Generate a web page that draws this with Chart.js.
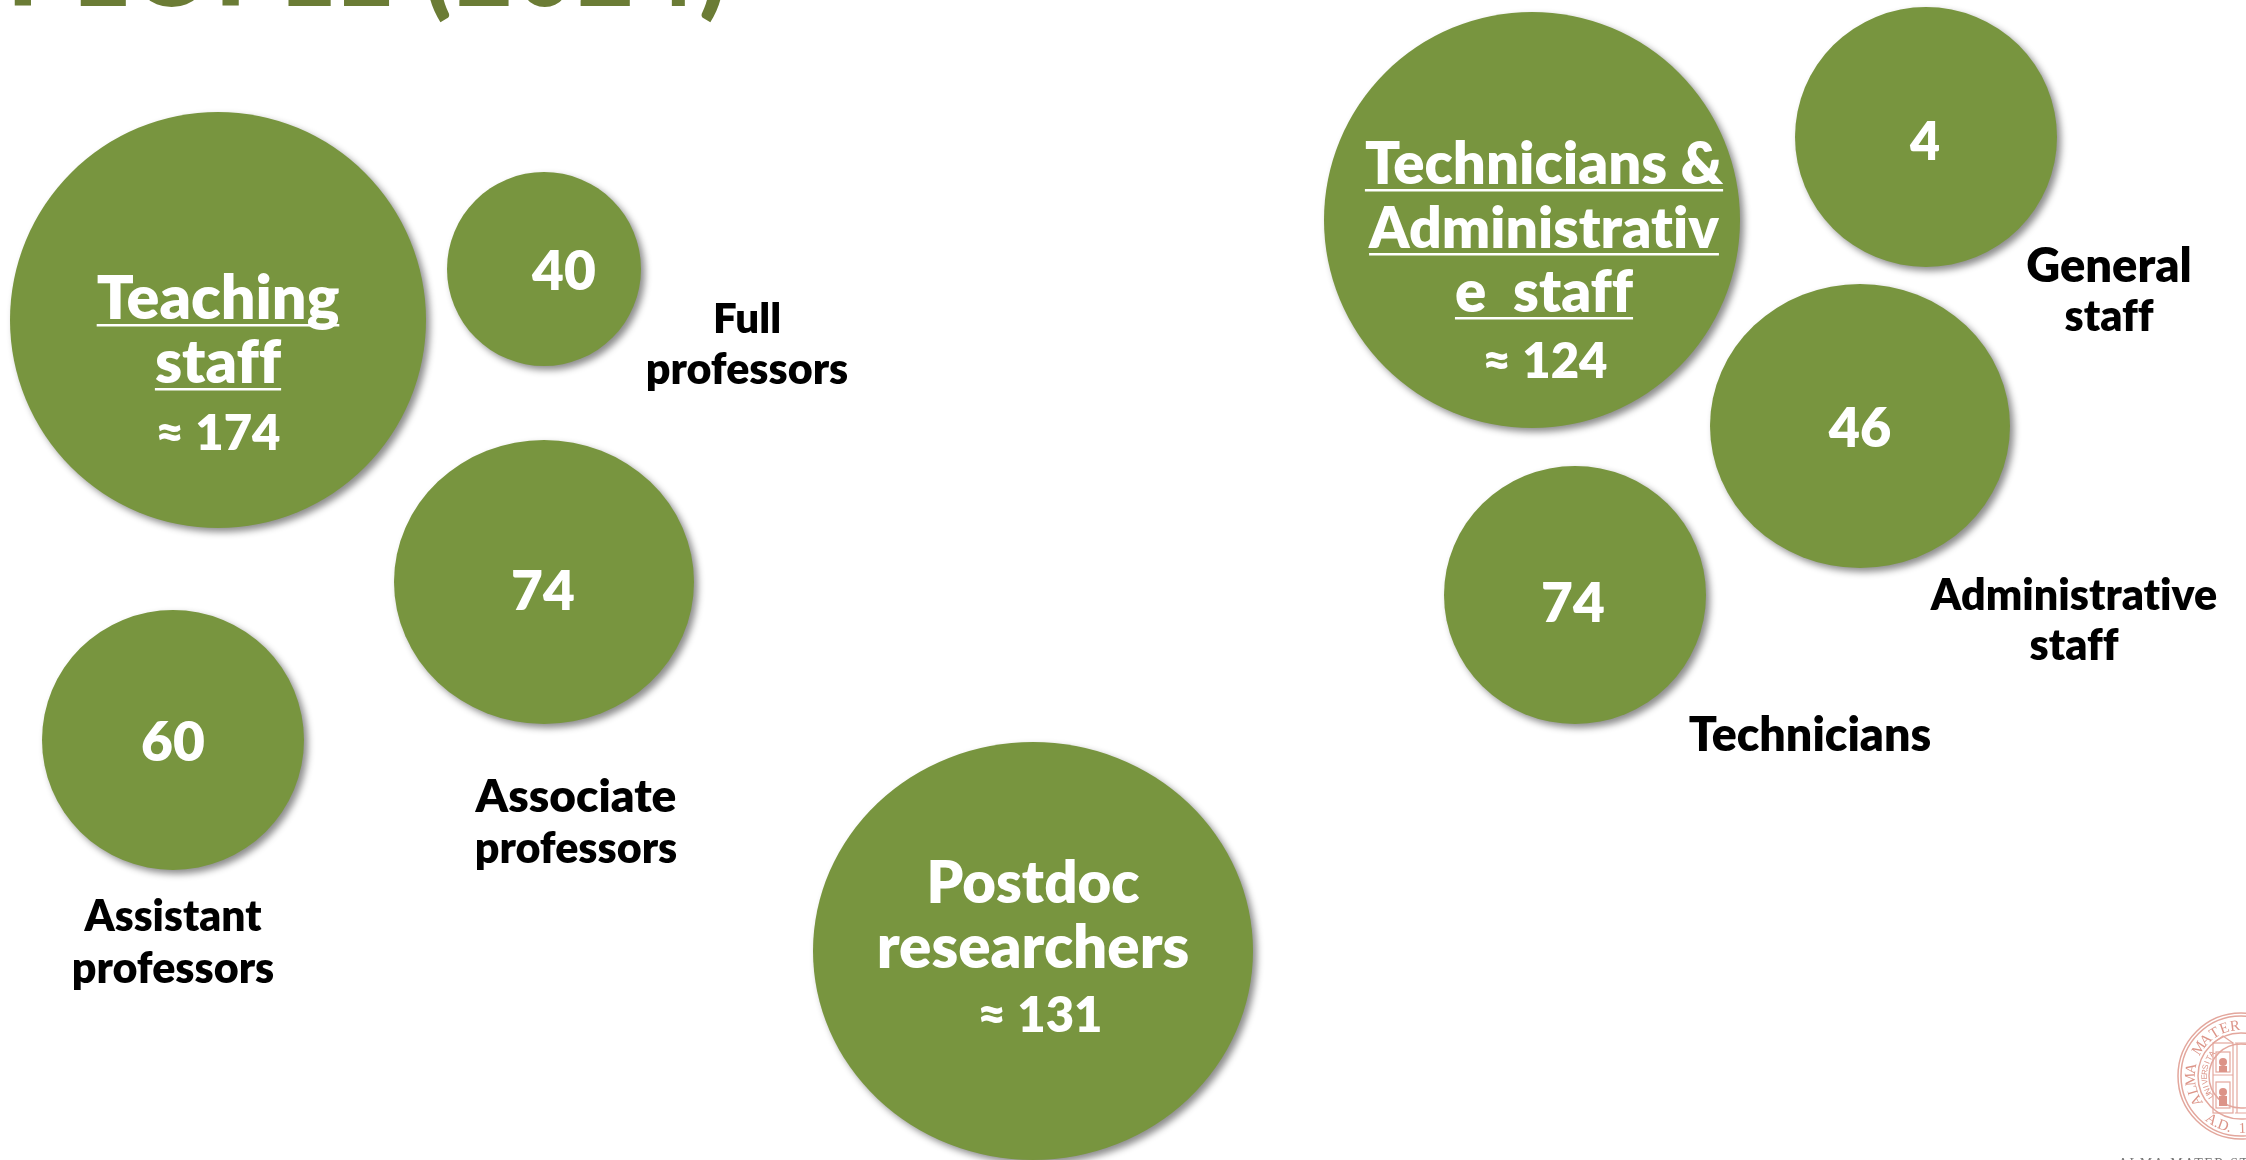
<!DOCTYPE html>
<html><head><meta charset="utf-8">
<style>html,body{margin:0;padding:0;background:#fff;overflow:hidden}#c{display:block}</style>
<script src="https://cdn.jsdelivr.net/npm/chart.js@4/dist/chart.umd.min.js"></script>
</head><body>
<div style="position:relative;width:2246px;height:1160px"><canvas id="c" width="2246" height="1160"></canvas></div>
<script>
// Bubble data
const groups  = ["Teaching staff","Full professors","Associate professors","Assistant professors","Postdoc researchers","Technicians & Administrative staff","General staff","Administrative staff","Technicians"];
const counts  = [174,40,74,60,131,124,4,46,74];
const centerX = [218,544,544,173,1033,1532,1926,1860,1575];
const centerY = [320,269,582,740,951,220,137,426,595];
const radiusX = [208,97,150,131,220,208,131,150,131];
const radiusY = [208,97,142,130,209,208,130,142,129];

// Text drawn over the marks: [text, centre x, baseline y, size, underline]
const whiteLabels = [
  ["Teaching",218,319,61,1],["staff",218,383,61,1],["≈ 174",218,450,49,0],
  ["40",564,290,55,0],["74",543,610,55,0],["60",173,761,55,0],
  ["Postdoc",1033,903,58,0],["researchers",1033,968,60,0],["≈ 131",1040,1032,49,0],
  ["Technicians &",1544,184,58,1],["Administrativ",1544,248,57,1],["e  staff",1544,312,58,1],["≈ 124",1545,378,49,0],
  ["4",1925,160,52,0],["46",1860,447,54,0],["74",1573,622,55,0]
];
const blackLabels = [
  ["Full",747,333,42],["professors",747,384,43],
  ["General",2109,282,47],["staff",2109,331,43],
  ["Administrative",2074,610,43],["staff",2074,660,43],
  ["Technicians",1810,751,46.5],
  ["Associate",576,812,46],["professors",576,863,43],
  ["Assistant",173,931,42.5],["professors",173,983,43]
];
const titleText = "PEOPLE (2024)";
const sealTop = "ALMA MATER";
const sealInner = "UNIVERSITA";
const sealBottom = "A.D. 1";
const footerText = "ALMA MATER STUDIORUM";

const FONT = 'Lato, "Open Sans", sans-serif';
const GREEN = '#78953f';

class OvalPoint extends Chart.PointElement {
  static id = 'ovalPoint';
  draw(ctx) {
    const o = this.options;
    const rx = o.radius, ry = this.ovalRy || rx;
    ctx.save();
    ctx.shadowColor = 'rgba(0,0,0,0.45)';
    ctx.shadowBlur = 7;
    ctx.shadowOffsetX = 4;
    ctx.shadowOffsetY = 4;
    ctx.fillStyle = o.backgroundColor;
    ctx.beginPath();
    ctx.ellipse(this.x, this.y, rx, ry, 0, 0, Math.PI * 2);
    ctx.fill();
    ctx.restore();
  }
}
class OvalBubble extends Chart.BubbleController {
  static id = 'ovalBubble';
  static defaults = Object.assign({}, Chart.BubbleController.defaults, {dataElementType: 'ovalPoint'});
  static overrides = Chart.BubbleController.overrides;
  getMaxOverflow() { return 0; }
  draw() {
    const src = this.getDataset().data;
    this._cachedMeta.data.forEach((el, i) => { el.ovalRy = src[i].ry; });
    super.draw();
  }
}
Chart.register(OvalPoint, OvalBubble);

function arcText(ctx, text, cx, cy, r, start, step, bottom) {
  text.split('').forEach((ch, i) => {
    const a = start + i * step;
    ctx.save();
    ctx.translate(cx + Math.cos(a) * r, cy + Math.sin(a) * r);
    ctx.rotate(bottom ? a - Math.PI / 2 : a + Math.PI / 2);
    ctx.fillText(ch, 0, 0);
    ctx.restore();
  });
}

const textPlugin = {
  id: 'slideText',
  afterDatasetsDraw(chart) {
    const {ctx} = chart;
    const xs = chart.scales.x, ys = chart.scales.y;
    ctx.save();
    ctx.textBaseline = 'alphabetic';
    // clipped title
    ctx.fillStyle = '#6b7c35';
    ctx.font = '800 96px ' + FONT;
    ctx.letterSpacing = '5px';
    ctx.textAlign = 'left';
    ctx.fillText(titleText, 8, 6);
    ctx.letterSpacing = '0.01px'; // also switches the ti / ff ligatures off
    ctx.textAlign = 'center';
    // labels
    ctx.fillStyle = '#ffffff';
    whiteLabels.forEach(([t, x, y, s, u]) => {
      ctx.font = '800 ' + s + 'px ' + FONT;
      ctx.fillText(t, xs.getPixelForValue(x), ys.getPixelForValue(y));
      if (u) {
        const w = ctx.measureText(t).width;
        ctx.fillRect(xs.getPixelForValue(x) - w / 2, ys.getPixelForValue(y) + 5, w, 2.5);
      }
    });
    ctx.fillStyle = '#000000';
    blackLabels.forEach(([t, x, y, s]) => {
      ctx.font = '800 ' + s + 'px ' + FONT;
      ctx.fillText(t, xs.getPixelForValue(x), ys.getPixelForValue(y));
    });
    // seal, lower right corner
    const cx = 2241, cy = 1076, R = 63;
    ctx.strokeStyle = '#e3a79d';
    ctx.fillStyle = '#dc9488';
    ctx.lineWidth = 1.5;
    [R, R - 3, R - 20, R - 31].forEach(r => { ctx.beginPath(); ctx.arc(cx, cy, r, 0, Math.PI * 2); ctx.stroke(); });
    ctx.font = '15px "Liberation Serif", serif';
    arcText(ctx, sealTop, cx, cy, R - 17, Math.PI * 0.84, 0.217, false);
    arcText(ctx, sealBottom, cx, cy, R - 6, Math.PI * 0.69, -0.125, true);
    ctx.font = '8px "Liberation Sans", sans-serif';
    arcText(ctx, sealInner, cx, cy, R - 29, Math.PI * 0.82, 0.135, false);
    // building in the seal
    ctx.lineWidth = 1.2;
    ctx.strokeRect(cx - 28, cy - 33, 20, 70);
    ctx.strokeRect(cx - 25, cy - 24, 14, 20);
    ctx.strokeRect(cx - 25, cy + 6, 14, 26);
    ctx.beginPath();
    ctx.moveTo(cx - 28, cy - 33); ctx.lineTo(cx - 18, cy - 40); ctx.lineTo(cx - 8, cy - 33);
    ctx.moveTo(cx - 28, cy - 1); ctx.lineTo(cx - 8, cy - 1);
    ctx.moveTo(cx - 6, cy - 33); ctx.lineTo(cx + 5, cy - 33); ctx.moveTo(cx - 6, cy + 37); ctx.lineTo(cx + 5, cy + 37);
    ctx.moveTo(cx - 4, cy - 33); ctx.lineTo(cx - 4, cy + 37);
    ctx.stroke();
    ctx.beginPath(); ctx.arc(cx - 18, cy - 14, 4, 0, Math.PI * 2); ctx.fill();
    ctx.fillRect(cx - 22, cy - 10, 8, 6);
    ctx.beginPath(); ctx.arc(cx - 18, cy + 16, 4, 0, Math.PI * 2); ctx.fill();
    ctx.fillRect(cx - 22, cy + 20, 8, 10);
    // footer, clipped by the lower edge
    ctx.fillStyle = '#777';
    ctx.font = '14px "Liberation Serif", serif';
    ctx.letterSpacing = '1.5px';
    ctx.textAlign = 'left';
    ctx.textBaseline = 'top';
    ctx.fillText(footerText, 2118, 1157);
    ctx.restore();
  }
};

new Chart(document.getElementById('c'), {
  type: 'ovalBubble',
  data: {
    labels: groups,
    datasets: [{
      label: 'People',
      data: counts.map((n, i) => ({x: centerX[i], y: centerY[i], r: radiusX[i], ry: radiusY[i], count: n})),
      backgroundColor: GREEN,
      borderWidth: 0,
      clip: false
    }]
  },
  options: {
    responsive: false,
    animation: false,
    layout: {padding: 0, autoPadding: false},
    events: [],
    plugins: {legend: {display: false}, tooltip: {enabled: false}, title: {display: false}},
    scales: {
      x: {type: 'linear', display: false, min: 0, max: 2246, offset: false},
      y: {type: 'linear', display: false, min: 0, max: 1160, reverse: true, offset: false}
    }
  },
  plugins: [textPlugin]
});
</script>
</body></html>
